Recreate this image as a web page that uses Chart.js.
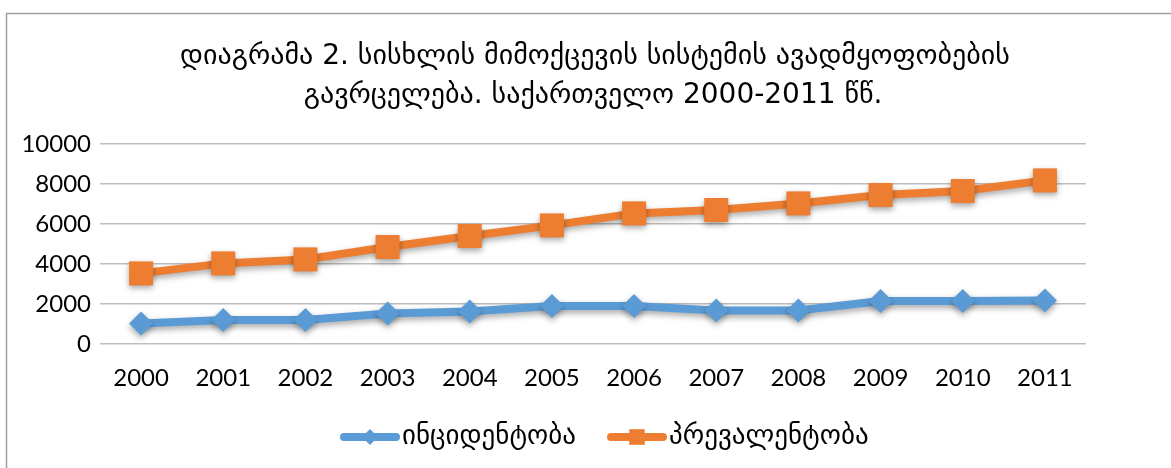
<!DOCTYPE html>
<html>
<head>
<meta charset="utf-8">
<script src="https://cdn.jsdelivr.net/npm/chart.js@4/dist/chart.umd.min.js"></script>
<style>
  html, body { margin: 0; padding: 0; background: #fff; }
  #wrap { width: 1171px; height: 468px; position: relative; }
</style>
</head>
<body>
<div id="wrap"><canvas id="c" width="1171" height="468"></canvas></div>
<script>
// Years on the horizontal axis
const years = ['2000', '2001', '2002', '2003', '2004', '2005', '2006', '2007', '2008', '2009', '2010', '2011'];
// Incidence of circulatory system diseases
const incidence = [1030, 1200, 1200, 1530, 1620, 1900, 1900, 1670, 1680, 2150, 2150, 2180];
// Prevalence of circulatory system diseases
const prevalence = [3530, 4030, 4230, 4850, 5400, 5930, 6530, 6700, 7030, 7450, 7650, 8180];
// Value axis ticks
const yTicks = [0, 2000, 4000, 6000, 8000, 10000];

const titleLines = [
  'დიაგრამა 2. სისხლის მიმოქცევის სისტემის ავადმყოფობების',
  'გავრცელება. საქართველო 2000-2011 წწ.'
];
const seriesNames = ['ინციდენტობა', 'პრევალენტობა'];

const BLUE = '#5B9BD5';
const ORANGE = '#ED7D31';
const GEO_FONT = '"DejaVu Sans", sans-serif';
const NUM_FONT = 'Lato, "Open Sans", sans-serif';

// Outer frame, title and legend drawn directly on the canvas
const decorations = {
  id: 'decorations',
  beforeDraw(chart) {
    const ctx = chart.ctx;
    ctx.save();
    ctx.strokeStyle = '#a0a0a0';
    ctx.lineWidth = 1.5;
    ctx.beginPath();
    ctx.moveTo(6.5, chart.height + 5);
    ctx.lineTo(6.5, 13.5);
    ctx.lineTo(chart.width + 5, 13.5);
    ctx.stroke();
    ctx.restore();
  },
  afterDraw(chart) {
    const ctx = chart.ctx;
    ctx.save();
    ctx.fillStyle = '#000';
    ctx.textAlign = 'center';
    ctx.textBaseline = 'middle';
    ctx.font = '28px ' + GEO_FONT;
    ctx.fillText(titleLines[0], 595, 57);
    ctx.fillText(titleLines[1], 593, 96);

    // legend
    const items = [
      { x: 340, color: BLUE, style: 'rectRot', r: 8, text: seriesNames[0] },
      { x: 607, color: ORANGE, style: 'rect', r: 11, text: seriesNames[1] }
    ];
    const ly = 437;
    items.forEach(it => {
      ctx.strokeStyle = it.color;
      ctx.lineWidth = 8;
      ctx.lineCap = 'round';
      ctx.beginPath();
      ctx.moveTo(it.x + 4, ly);
      ctx.lineTo(it.x + 56, ly);
      ctx.stroke();
      ctx.fillStyle = it.color;
      Chart.helpers.drawPoint(ctx, { pointStyle: it.style, radius: it.r, borderWidth: 0 }, it.x + 30, ly);
      ctx.fillStyle = '#000';
      ctx.textAlign = 'left';
      ctx.font = '27px ' + GEO_FONT;
      ctx.fillText(it.text, it.x + 62, ly);
    });
    ctx.restore();
  }
};

// Soft drop shadow under the lines and markers
const markerShadow = {
  id: 'markerShadow',
  beforeDatasetsDraw(chart) {
    const ctx = chart.ctx;
    ctx.save();
    ctx.shadowColor = 'rgba(0,0,0,0.35)';
    ctx.shadowBlur = 6;
    ctx.shadowOffsetY = 3;
  },
  afterDatasetsDraw(chart) {
    chart.ctx.restore();
  }
};

new Chart(document.getElementById('c'), {
  type: 'line',
  data: {
    labels: years,
    datasets: [
      {
        label: seriesNames[0],
        data: incidence,
        borderColor: BLUE,
        backgroundColor: BLUE,
        borderWidth: 8,
        pointStyle: 'rectRot',
        pointRadius: 12,
        pointBorderWidth: 0,
        pointBackgroundColor: BLUE,
        tension: 0
      },
      {
        label: seriesNames[1],
        data: prevalence,
        borderColor: ORANGE,
        backgroundColor: ORANGE,
        borderWidth: 8,
        pointStyle: 'rect',
        pointRadius: 17,
        pointBorderWidth: 0,
        pointBackgroundColor: ORANGE,
        tension: 0
      }
    ]
  },
  options: {
    responsive: false,
    animation: false,
    events: [],
    layout: { padding: { left: 0, right: 85, top: 144, bottom: 64 } },
    plugins: {
      legend: { display: false },
      title: { display: false },
      tooltip: { enabled: false }
    },
    scales: {
      x: {
        offset: true,
        grid: { display: false, drawTicks: false },
        border: { display: false },
        ticks: {
          color: '#000',
          padding: 20,
          font: { family: NUM_FONT, size: 24 },
          maxRotation: 0
        },
        afterFit(scale) { scale.height = 60; }
      },
      y: {
        min: 0,
        max: 10000,
        afterBuildTicks(scale) { scale.ticks = yTicks.map(v => ({ value: v })); },
        grid: { color: '#bdbdbd', lineWidth: 1.5, drawTicks: false },
        border: { display: false },
        ticks: {
          color: '#000',
          padding: 9,
          font: { family: NUM_FONT, size: 24 },
          callback: v => String(v)
        },
        afterFit(scale) { scale.width = 100; }
      }
    }
  },
  plugins: [decorations, markerShadow]
});
</script>
</body>
</html>
